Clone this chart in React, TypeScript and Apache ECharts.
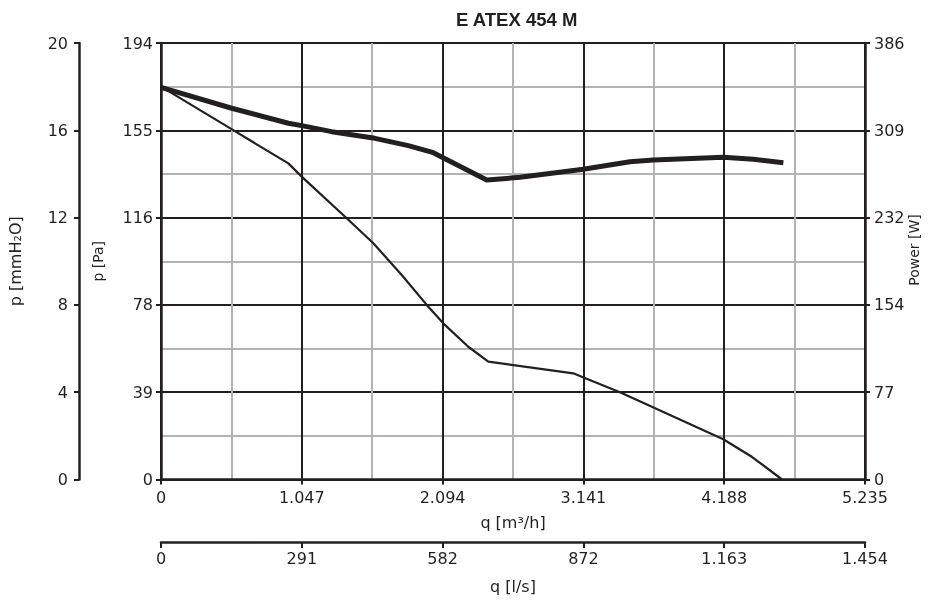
import React, { useEffect, useRef } from "react";
import * as echarts from "echarts";

// Tick labels
const qM3hLabels = ["0", "1.047", "2.094", "3.141", "4.188", "5.235"];
const qLsLabels = ["0", "291", "582", "872", "1.163", "1.454"];
const paLabels = ["0", "39", "78", "116", "155", "194"];
const mmLabels = ["0", "4", "8", "12", "16", "20"];
const powerLabels = ["0", "77", "154", "232", "309", "386"];

// Pressure curve (q in m3/h scale units, p in Pa)
const qPressure = [0, 0.528, 0.947, 1.046, 1.381, 1.579, 1.79, 1.976, 2.099, 2.285, 2.434, 3.066, 3.128, 3.413, 4.181, 4.393, 4.618];
const pressurePa = [174.6, 155.6, 140.5, 134.6, 116.1, 105.0, 90.9, 77.6, 69.4, 59.0, 52.4, 47.2, 45.7, 38.8, 17.9, 10.1, 0];

// Power curve (W)
const qPower = [0, 0.526, 0.947, 1.046, 1.269, 1.591, 1.839, 2.025, 2.422, 2.67, 3.14, 3.487, 3.661, 4.181, 4.404, 4.628];
const powerW = [346.7, 328.3, 315.0, 312.9, 307.6, 301.7, 295.2, 289.0, 264.8, 267.2, 274.3, 281.0, 282.5, 284.9, 283.2, 280.1];

const INK = "#231f20";
const GREY = "#b1b3b6";
const FONT = "DejaVu Sans";

export default function App() {
  const ref = useRef<HTMLDivElement>(null);
  useEffect(() => {
    if (!ref.current) return;
    const chart = echarts.init(ref.current, null, { renderer: "svg" });
    const label = { fontFamily: FONT, fontSize: 16, color: INK, lineHeight: 15 };
    const axisLine = { show: true, onZero: false, lineStyle: { color: INK, width: 2.5 } };
    const tick = { show: true, length: 5, lineStyle: { color: INK, width: 2 } };
    chart.setOption({
      animation: false,
      title: {
        text: "E ATEX 454 M",
        left: 451,
        top: 5,
        textStyle: { fontFamily: "Liberation Sans", fontWeight: "bold", fontSize: 18.5, color: INK },
      },
      graphic: [
        {
          type: "text",
          x: 914,
          y: 250,
          rotation: Math.PI / 2,
          style: {
            text: "Power [W]",
            fontFamily: FONT,
            fontSize: 14,
            fill: INK,
            align: "center",
            verticalAlign: "middle",
          },
        },
      ],
      grid: { left: 161, right: 63, top: 43, bottom: 127.5, containLabel: false, outerBoundsMode: "none" },
      xAxis: [
        {
          type: "value",
          min: 0,
          max: 5.235,
          interval: 1.047,
          position: "bottom",
          axisLine,
          axisTick: tick,
          axisLabel: { ...label, margin: 10, formatter: (v: number) => qM3hLabels[Math.round(v / 1.047)] },
          splitLine: { show: true, lineStyle: { color: INK, width: 2 } },
          minorTick: { show: false, splitNumber: 2 },
          minorSplitLine: { show: true, lineStyle: { color: GREY, width: 2 } },
          name: "q [m³/h]",
          nameLocation: "middle",
          nameGap: 35,
          nameMoveOverlap: false,
          nameTextStyle: { fontFamily: FONT, fontSize: 16, color: INK, verticalAlign: "top" },
          z: 3,
        },
        {
          type: "value",
          min: 0,
          max: 1.454,
          interval: 0.2908,
          position: "bottom",
          offset: 62.5,
          axisLine,
          axisTick: { ...tick, length: 6 },
          axisLabel: { ...label, margin: 9, formatter: (v: number) => qLsLabels[Math.round(v / 0.2908)] },
          splitLine: { show: false },
          name: "q [l/s]",
          nameLocation: "middle",
          nameGap: 36,
          nameMoveOverlap: false,
          nameTextStyle: { fontFamily: FONT, fontSize: 16, color: INK, verticalAlign: "top" },
        },
      ],
      yAxis: [
        {
          type: "value",
          min: 0,
          max: 194,
          interval: 38.8,
          position: "left",
          axisLine,
          axisTick: tick,
          axisLabel: { ...label, margin: 8, formatter: (v: number) => paLabels[Math.round(v / 38.8)] },
          splitLine: { show: true, lineStyle: { color: INK, width: 2 } },
          minorTick: { show: false, splitNumber: 2 },
          minorSplitLine: { show: true, lineStyle: { color: GREY, width: 2 } },
          name: "p [Pa]",
          nameLocation: "middle",
          nameGap: 56,
          nameMoveOverlap: false,
          nameRotate: 90,
          nameTextStyle: { fontFamily: FONT, fontSize: 14, color: INK },
          z: 3,
        },
        {
          type: "value",
          min: 0,
          max: 20,
          interval: 4,
          position: "left",
          offset: 82,
          axisLine,
          axisTick: tick,
          axisLabel: { ...label, margin: 11, formatter: (v: number) => mmLabels[Math.round(v / 4)] },
          splitLine: { show: false },
          name: "p [mmH₂O]",
          nameLocation: "middle",
          nameGap: 56,
          nameMoveOverlap: false,
          nameRotate: 90,
          nameTextStyle: { fontFamily: FONT, fontSize: 16, color: INK },
        },
        {
          type: "value",
          min: 0,
          max: 386,
          interval: 77.2,
          position: "right",
          axisLine,
          axisTick: tick,
          axisLabel: { ...label, margin: 9, lineHeight: 14, padding: [0, 0, 2, 0], formatter: (v: number) => powerLabels[Math.round(v / 77.2)] },
          splitLine: { show: false },
          z: 3,
        },
      ],
      series: [
        {
          type: "line",
          xAxisIndex: 0,
          yAxisIndex: 0,
          data: qPressure.map((q, i) => [q, pressurePa[i]]),
          showSymbol: false,
          symbol: "none",
          lineStyle: { color: INK, width: 2.2 },
          z: 5,
        },
        {
          type: "line",
          xAxisIndex: 0,
          yAxisIndex: 2,
          data: qPower.map((q, i) => [q, powerW[i]]),
          showSymbol: false,
          symbol: "none",
          lineStyle: { color: INK, width: 5 },
          z: 5,
        },
      ],
    });
    return () => chart.dispose();
  }, []);
  return <div ref={ref} style={{ position: "fixed", left: 0, top: 0, width: 928, height: 607 }} />;
}
